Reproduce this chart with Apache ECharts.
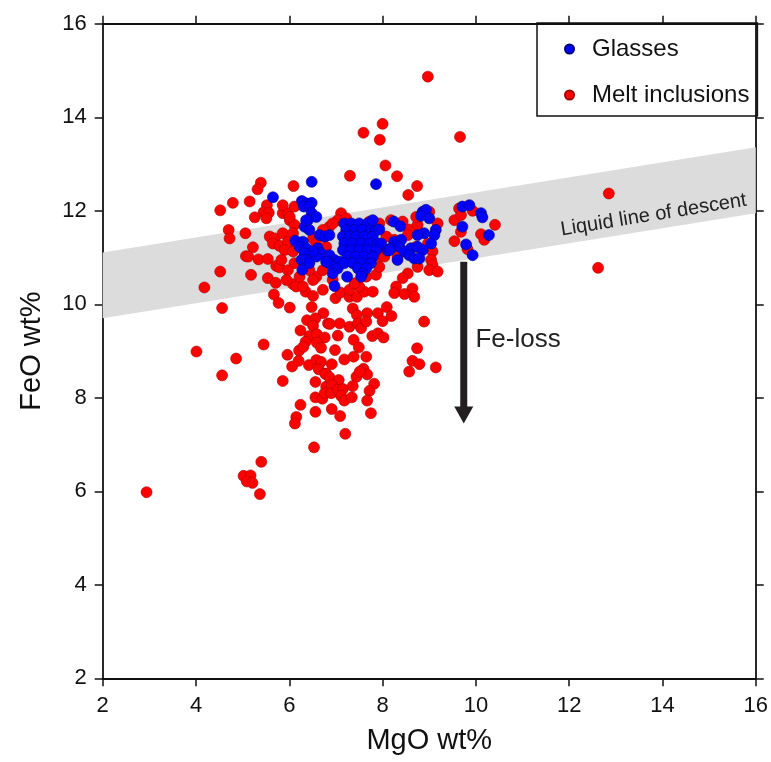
<!DOCTYPE html>
<html><head><meta charset="utf-8">
<script src="https://cdn.jsdelivr.net/npm/echarts@6/dist/echarts.min.js"></script>
<style>html,body{margin:0;padding:0;background:#fff}#c{width:771px;height:762px}</style>
</head><body><div id="c"></div>
<script>
// ---- data (MgO wt%, FeO wt%) ----
const xTicks = [2, 4, 6, 8, 10, 12, 14, 16];
const yTicks = [2, 4, 6, 8, 10, 12, 14, 16];

const meltInclusions = [
 [8.97,14.87],[8.00,13.86],[7.59,13.67],[7.94,13.52],[9.66,13.58],[8.06,12.97],[7.30,12.75],[8.31,12.74],
 [8.74,12.53],[8.55,12.34],[5.39,12.60],[5.32,12.46],[6.09,12.53],[12.85,12.37],[12.62,10.78],
 [4.79,12.17],[5.15,12.20],[4.52,12.01],[5.52,12.12],[5.45,11.97],[5.56,11.96],[5.51,11.84],[5.26,11.86],
 [5.86,11.95],[5.97,11.95],[6.01,11.80],[6.11,11.70],[4.70,11.59],[4.72,11.41],[5.06,11.52],[5.58,11.45],
 [5.69,11.41],[5.65,11.30],[5.79,11.25],[5.22,11.22],[6.01,11.18],[5.07,11.03],[5.12,11.02],[5.34,10.96],
 [5.54,10.97],[5.72,10.82],[5.79,10.79],[4.52,10.70],[5.18,10.63],[5.54,10.56],[5.71,10.46],[6.08,10.43],
 [4.18,10.36],[6.15,10.38],[6.35,10.27],[5.67,10.21],
 [4.56,9.92],[4.01,8.99],[4.86,8.84],[4.56,8.48],[5.45,9.14],[5.96,8.92],[6.06,8.67],[5.86,8.36],
 [6.24,9.44],[6.21,9.01],[6.24,7.85],[6.15,7.59],[6.12,7.45],[5.40,6.63],[5.02,6.33],[5.17,6.34],
 [5.09,6.21],[5.21,6.18],[5.37,5.94],[2.94,5.98],[5.77,10.03],[6.01,9.93],
 [6.48,9.94],[6.73,9.81],[6.38,9.66],[6.56,9.70],[6.51,9.54],[6.83,9.59],
 [6.43,9.32],[6.59,9.36],[6.76,9.29],[6.35,9.20],[6.30,9.09],[6.59,9.18],[6.68,9.07],[6.42,8.70],
 [6.58,8.81],[6.68,8.77],[6.63,8.61],[6.79,8.52],[6.56,8.34],[6.79,8.24],[6.56,8.01],[6.71,7.98],
 [6.56,7.70],[6.53,6.94],[6.20,8.79],
 [6.51,10.18],[6.99,10.13],[7.10,10.25],[7.29,10.16],[7.45,10.16],[7.61,10.27],[7.36,9.91],
 [7.45,9.77],[7.29,9.52],[7.47,9.59],[7.54,9.49],[7.67,9.81],[7.65,9.63],[7.90,9.81],[8.00,9.64],
 [8.09,9.94],[8.19,9.75],[7.78,9.32],[7.90,9.38],[8.02,9.29],[7.08,9.59],[6.87,9.58],[7.04,9.33],
 [7.38,9.24],[7.49,9.08],[6.98,9.02],[7.18,8.82],[7.38,8.88],[7.65,8.88],[6.91,8.72],[6.77,8.51],
 [6.86,8.44],[7.06,8.38],[7.44,8.45],[7.59,8.62],[7.67,8.50],[7.51,8.56],[6.91,8.27],[6.76,8.10],
 [6.90,8.10],[7.04,8.17],[7.15,8.19],[7.36,8.25],[7.82,8.30],[7.72,8.15],[7.11,8.04],[7.18,7.94],
 [7.34,8.01],[7.67,7.94],[6.91,7.76],[7.09,7.61],[7.75,7.67],[7.20,7.23],
 [8.74,9.06],[8.64,8.79],[8.57,8.56],[8.89,9.63],[8.79,8.72],[9.14,8.65],
 [6.01,11.87],[6.11,12.09],[5.86,11.52],[6.08,11.52],[5.97,11.34],[5.90,11.16],[6.08,11.13],
 [6.11,10.88],[5.97,10.73],[5.94,10.52],[6.29,10.38],[6.72,10.31],[6.93,10.52],[6.58,10.59],
 [6.72,10.73],[6.43,10.73],[6.51,10.52],[6.22,10.59],[7.29,10.31],[7.50,10.38],[7.65,10.59],[7.86,10.63],
 [7.93,10.80],[7.93,11.02],[7.97,11.23],[7.86,11.59],[7.72,11.77],[7.93,11.73],[7.11,11.95],[7.04,11.80],
 [6.86,11.66],[6.72,11.59],[6.93,11.73],[7.40,10.45],[7.79,10.27],[6.65,11.13],[6.79,11.23],[6.51,11.41],
 [6.58,11.30],[5.83,10.95],[7.22,11.84],[5.86,12.12],
 [8.18,11.80],[8.43,11.77],[8.57,11.60],[8.75,11.70],[8.72,11.87],[9.00,11.98],[9.18,11.73],[8.08,11.45],
 [8.25,11.38],[8.54,11.48],[8.72,11.23],[8.97,11.30],[9.07,11.13],[9.04,10.95],[9.07,10.84],[9.00,10.73],
 [9.18,10.70],[8.75,10.80],[8.54,10.66],[8.43,10.56],[8.29,10.38],[8.64,10.34],[8.25,10.24],[8.47,10.22],
 [8.68,10.16],[8.04,11.02],[8.32,11.02],[9.54,11.80],[9.64,12.05],[9.68,11.91],[9.93,12.00],[9.68,11.55],
 [9.54,11.35],[9.82,11.18],[10.11,11.50],[10.18,11.38],[10.41,11.70]
];

const glasses = [
 [6.48,12.62],[7.86,12.57],[5.65,12.29],[6.27,12.21],[6.36,12.16],[6.48,12.17],[6.31,12.09],[6.43,12.09],
 [6.48,11.95],[6.58,11.87],[6.40,11.80],[6.33,11.66],[6.43,11.59],[6.65,11.48],[6.76,11.45],[6.86,11.48],
 [6.13,11.36],[6.29,11.34],[6.22,11.23],[6.36,11.20],[6.61,11.20],[6.68,11.09],[6.58,11.02],[6.51,11.13],
 [6.33,11.09],[6.26,10.95],[6.36,10.95],[6.43,10.88],[6.28,10.74],[6.86,11.05],[6.97,10.95],[6.86,10.88],
 [7.08,10.91],[6.93,10.80],[7.04,10.77],[6.93,10.66],[6.97,10.39],[6.79,10.91],[7.24,10.59],
 [7.18,11.73],[7.33,11.73],[7.50,11.73],[7.68,11.73],
 [7.22,11.59],[7.40,11.59],[7.57,11.59],[7.75,11.59],[7.86,11.59],
 [7.15,11.45],[7.29,11.45],[7.43,11.45],[7.61,11.45],[7.79,11.45],
 [7.18,11.30],[7.36,11.30],[7.54,11.30],[7.72,11.30],[7.90,11.30],[7.97,11.30],
 [7.15,11.16],[7.33,11.16],[7.50,11.16],[7.68,11.16],[7.86,11.16],
 [7.25,11.02],[7.43,11.02],[7.61,11.02],[7.79,11.02],
 [7.18,10.88],[7.36,10.88],[7.54,10.88],[7.75,10.88],
 [7.47,10.77],[7.65,10.77],[7.57,10.66],[7.54,10.59],[7.79,11.80],[7.93,11.60],[8.11,11.15],[6.36,11.80],
 [8.24,11.77],[8.38,11.67],[8.86,11.98],[8.93,12.02],[8.82,11.89],[9.00,11.84],[9.14,11.59],[8.89,11.52],
 [8.75,11.48],[9.11,11.48],[9.04,11.30],[8.25,11.34],[8.40,11.38],[8.18,11.20],[8.36,11.23],[8.47,11.13],
 [8.61,11.20],[8.75,11.23],[8.86,11.16],[8.57,11.05],[8.68,10.98],[8.79,10.98],[8.32,10.95],[8.15,11.16],
 [9.71,12.09],[9.86,12.12],[10.11,11.95],[10.14,11.86],[9.71,11.66],[10.28,11.48],[9.79,11.28],[9.93,11.05]
];

// liquid line of descent band (MgO ends, upper and lower FeO)
const bandMgO = [2, 16];
const bandUpper = [11.11, 13.36];
const bandLower = [9.70, 11.95];
const bandLabel = 'Liquid line of descent';
const bandLabelAt = [13.81, 11.91];

// Fe-loss arrow
const arrowMgO = 9.74, arrowTop = 10.91, arrowTip = 7.45;
const arrowLabel = 'Fe-loss';
const arrowLabelAt = [9.99, 9.24];

// ---- chart ----
const FONT = '"Liberation Sans", Arial, Helvetica, sans-serif';
const INK = '#111111';
const chart = echarts.init(document.getElementById('c'), null, {renderer: 'canvas'});

function axisBase(extra) {
  return Object.assign({
    type: 'value', min: 2, max: 16, interval: 2,
    axisLine: {show: true, onZero: false, lineStyle: {color: INK, width: 1.8}},
    axisTick: {show: true, inside: false, length: 8, lineStyle: {color: INK, width: 1.5}},
    splitLine: {show: false}
  }, extra);
}

chart.setOption({
  animation: false,
  textStyle: {fontFamily: FONT},
  grid: {left: 102.7, right: 13.8, top: 23.8, bottom: 83.7, containLabel: false},
  xAxis: [
    axisBase({position: 'bottom',
      axisLabel: {fontSize: 22, color: INK, margin: 17, fontFamily: FONT,
        formatter: v => xTicks.includes(v) ? String(v) : ''},
      name: 'MgO wt%', nameLocation: 'middle', nameGap: 48,
      nameTextStyle: {fontSize: 29, color: INK, fontFamily: FONT}}),
    axisBase({position: 'top', axisLabel: {show: false}})
  ],
  yAxis: [
    axisBase({position: 'left',
      axisLabel: {fontSize: 22, color: INK, margin: 16, fontFamily: FONT,
        formatter: v => yTicks.includes(v) ? String(v) : ''},
      name: 'FeO wt%', nameLocation: 'middle', nameGap: 56,
      nameTextStyle: {fontSize: 29, color: INK, fontFamily: FONT}}),
    axisBase({position: 'right', axisLabel: {show: false}})
  ],
  legend: {
    data: ['Glasses', 'Melt inclusions'],
    orient: 'vertical', left: 537, top: 23,
    icon: 'circle', itemWidth: 9, itemHeight: 9, itemGap: 18,
    padding: [12, 8, 7, 27],
    borderColor: INK, borderWidth: 1.5,
    textStyle: {fontSize: 24, color: INK, fontFamily: FONT, lineHeight: 28, padding: [0, 0, 0, 13]}
  },
  series: [
    {
      type: 'custom', name: 'band', silent: true, z: 1,
      data: [[bandMgO[0], bandLower[0]]],
      renderItem: (params, api) => {
        const a = api.coord([bandMgO[0], bandUpper[0]]);
        const b = api.coord([bandMgO[1], bandUpper[1]]);
        const c = api.coord([bandMgO[1], bandLower[1]]);
        const d = api.coord([bandMgO[0], bandLower[0]]);
        const ang = Math.atan2(d[1] - c[1], c[0] - d[0]);
        const t = api.coord(bandLabelAt);
        return {type: 'group', children: [
          {type: 'polygon', shape: {points: [a, b, c, d]}, style: {fill: '#dcdcdc'}},
          {type: 'text', x: t[0], y: t[1], rotation: ang,
           style: {text: bandLabel, fill: '#222', font: '20px ' + FONT, align: 'center', verticalAlign: 'middle'}}
        ]};
      }
    },
    {
      type: 'scatter', name: 'Melt inclusions', data: meltInclusions, symbolSize: 11, z: 3,
      itemStyle: {color: '#ff0000', opacity: 1, borderColor: '#a30000', borderWidth: 0.6}
    },
    {
      type: 'scatter', name: 'Glasses', data: glasses, symbolSize: 11, z: 4,
      itemStyle: {color: '#0000ff', opacity: 1, borderColor: '#00007a', borderWidth: 0.6}
    },
    {
      type: 'custom', name: 'arrow', silent: true, z: 5,
      data: [[arrowMgO, arrowTop]],
      renderItem: (params, api) => {
        const top = api.coord([arrowMgO, arrowTop]);
        const tip = api.coord([arrowMgO, arrowTip]);
        const hw = 3.5, headW = 9.5, headH = 17;
        const x = top[0];
        const lab = api.coord(arrowLabelAt);
        return {type: 'group', children: [
          {type: 'polygon', shape: {points: [
            [x - hw, top[1]], [x + hw, top[1]], [x + hw, tip[1] - headH], [x + headW, tip[1] - headH],
            [x, tip[1]], [x - headW, tip[1] - headH], [x - hw, tip[1] - headH]]},
           style: {fill: '#231f20'}},
          {type: 'text', x: lab[0], y: lab[1],
           style: {text: arrowLabel, fill: '#222', font: '26px ' + FONT, align: 'left', verticalAlign: 'middle'}}
        ]};
      }
    }
  ]
});
</script>
</body></html>
